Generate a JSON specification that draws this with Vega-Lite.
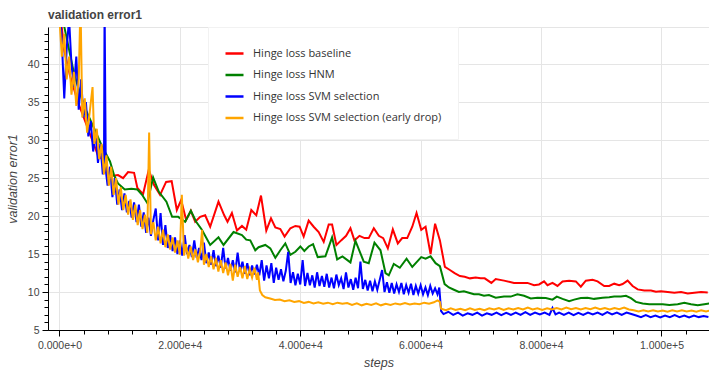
{
"$schema":"https://vega.github.io/schema/vega-lite/v6.json",
"width":661,"height":303,
"autosize":{"type":"none"},
"padding":{"left":48,"top":27,"right":0,"bottom":41},
"background":"white",
"title":{"text":"validation error1","anchor":"start","frame":"group","fontSize":12,"fontWeight":"bold","font":"Liberation Sans","color":"#444444","offset":5},
"datasets":{
"baseline":[{"step":0,"value":48},{"step":750,"value":42},{"step":1750,"value":38.5},{"step":3080,"value":35},{"step":4740,"value":31.5},{"step":6400,"value":28},{"step":7240,"value":27.4},{"step":8070,"value":25.5},{"step":8900,"value":25.3},{"step":9730,"value":25.4},{"step":10570,"value":25.0},{"step":11400,"value":25.8},{"step":12400,"value":25.7},{"step":12950,"value":23.7},{"step":13900,"value":22.9},{"step":14840,"value":26.1},{"step":15720,"value":24.1},{"step":16720,"value":22.8},{"step":17720,"value":24.5},{"step":18640,"value":24.6},{"step":19500,"value":20.8},{"step":20220,"value":22.1},{"step":21050,"value":19.5},{"step":21830,"value":20.7},{"step":22550,"value":19.25},{"step":23380,"value":19.9},{"step":24210,"value":20.1},{"step":25040,"value":18.6},{"step":26420,"value":21.9},{"step":27370,"value":20.1},{"step":27920,"value":19.25},{"step":28650,"value":20.4},{"step":29490,"value":18.1},{"step":30320,"value":18.7},{"step":31030,"value":18.2},{"step":31870,"value":20.8},{"step":32700,"value":20.1},{"step":33480,"value":22.7},{"step":34360,"value":18.1},{"step":35140,"value":19.7},{"step":35860,"value":18.5},{"step":36690,"value":18.3},{"step":37400,"value":17.3},{"step":38360,"value":18.4},{"step":39190,"value":18.7},{"step":39900,"value":18.6},{"step":40570,"value":17.3},{"step":41400,"value":19.4},{"step":42230,"value":18.6},{"step":43060,"value":17.9},{"step":43900,"value":16.6},{"step":44730,"value":18.9},{"step":45290,"value":18.9},{"step":46010,"value":16.2},{"step":46790,"value":16.8},{"step":47620,"value":17.4},{"step":48340,"value":18.4},{"step":49000,"value":16.8},{"step":49840,"value":17.4},{"step":50670,"value":17.1},{"step":51380,"value":17.1},{"step":52220,"value":18.4},{"step":53050,"value":17.4},{"step":53780,"value":17.1},{"step":54550,"value":15.75},{"step":55380,"value":18.25},{"step":56210,"value":16.4},{"step":56940,"value":17.1},{"step":57770,"value":17.1},{"step":58610,"value":18.6},{"step":59320,"value":20.4},{"step":60100,"value":18.2},{"step":60820,"value":18.6},{"step":61650,"value":15.0},{"step":62400,"value":19.0},{"step":63200,"value":16.8},{"step":64030,"value":13.3},{"step":64860,"value":12.9},{"step":65640,"value":12.5},{"step":66530,"value":12.1},{"step":67310,"value":12.0},{"step":68190,"value":11.8},{"step":69140,"value":11.9},{"step":69970,"value":11.8},{"step":70640,"value":11.8},{"step":71750,"value":11.2},{"step":72470,"value":11.7},{"step":73850,"value":11.5},{"step":75510,"value":11.2},{"step":77740,"value":11.2},{"step":78840,"value":10.9},{"step":79670,"value":11.0},{"step":80500,"value":11.4},{"step":81070,"value":10.9},{"step":81900,"value":11.2},{"step":82730,"value":10.8},{"step":83570,"value":11.4},{"step":84670,"value":11.5},{"step":85780,"value":11.4},{"step":86610,"value":10.7},{"step":87440,"value":11.5},{"step":88560,"value":11.6},{"step":89390,"value":11.4},{"step":90490,"value":10.8},{"step":91320,"value":10.8},{"step":92150,"value":11.1},{"step":92980,"value":10.9},{"step":93550,"value":11.05},{"step":94380,"value":11.5},{"step":95210,"value":10.8},{"step":96050,"value":10.35},{"step":97150,"value":10.2},{"step":98260,"value":10.2},{"step":99090,"value":10.05},{"step":99920,"value":10.1},{"step":101040,"value":10.0},{"step":102140,"value":9.9},{"step":103250,"value":10.0},{"step":104370,"value":9.8},{"step":105460,"value":9.9},{"step":106580,"value":10.0},{"step":107690,"value":9.95}],
"hnm":[{"step":0,"value":48},{"step":2500,"value":38.5},{"step":4190,"value":34.3},{"step":5900,"value":31.3},{"step":7000,"value":29.3},{"step":8400,"value":27.2},{"step":9070,"value":25.4},{"step":9730,"value":24.3},{"step":10850,"value":23.5},{"step":11950,"value":23.6},{"step":12950,"value":23.5},{"step":13730,"value":22.8},{"step":14610,"value":21.7},{"step":15560,"value":25.1},{"step":16510,"value":23.2},{"step":17770,"value":21.9},{"step":18720,"value":19.9},{"step":19720,"value":19.9},{"step":20880,"value":19.25},{"step":21830,"value":20.7},{"step":22710,"value":19.25},{"step":23660,"value":18.2},{"step":25040,"value":16.2},{"step":26420,"value":17.2},{"step":27260,"value":16.2},{"step":28920,"value":17.9},{"step":30320,"value":17.5},{"step":31030,"value":16.9},{"step":31700,"value":16.8},{"step":32530,"value":15.5},{"step":33080,"value":15.9},{"step":34200,"value":16.2},{"step":35030,"value":15.75},{"step":35860,"value":14.5},{"step":36690,"value":15.5},{"step":37520,"value":16.4},{"step":38360,"value":14.9},{"step":39190,"value":15.3},{"step":40020,"value":16.0},{"step":40680,"value":15.4},{"step":41400,"value":16.0},{"step":42130,"value":16.3},{"step":42900,"value":14.6},{"step":44180,"value":14.7},{"step":45290,"value":17.2},{"step":46130,"value":14.3},{"step":47010,"value":14.7},{"step":48340,"value":13.9},{"step":49170,"value":16.75},{"step":50550,"value":14.0},{"step":51380,"value":13.8},{"step":52330,"value":16.5},{"step":53330,"value":15.5},{"step":54160,"value":12.5},{"step":54710,"value":12.2},{"step":55540,"value":13.7},{"step":56540,"value":13.2},{"step":57660,"value":14.4},{"step":58610,"value":13.3},{"step":60100,"value":14.6},{"step":60820,"value":14.4},{"step":61650,"value":14.7},{"step":62480,"value":13.8},{"step":63200,"value":13.4},{"step":63980,"value":11.05},{"step":64700,"value":10.6},{"step":65530,"value":10.3},{"step":66360,"value":10.0},{"step":67190,"value":10.1},{"step":68020,"value":9.9},{"step":68860,"value":9.7},{"step":69690,"value":9.7},{"step":70520,"value":9.5},{"step":71350,"value":9.6},{"step":72470,"value":9.25},{"step":73850,"value":9.4},{"step":74960,"value":9.4},{"step":76070,"value":9.7},{"step":77180,"value":9.5},{"step":78290,"value":9.15},{"step":79400,"value":9.25},{"step":80790,"value":9.2},{"step":81900,"value":9.0},{"step":82620,"value":9.4},{"step":83570,"value":9.1},{"step":84670,"value":8.8},{"step":85500,"value":9.0},{"step":86610,"value":9.2},{"step":87720,"value":9.25},{"step":88820,"value":9.1},{"step":90220,"value":9.25},{"step":91320,"value":9.3},{"step":92150,"value":9.4},{"step":93270,"value":9.4},{"step":94100,"value":9.5},{"step":94930,"value":9.2},{"step":95760,"value":8.7},{"step":96880,"value":8.5},{"step":97980,"value":8.4},{"step":99090,"value":8.4},{"step":100200,"value":8.4},{"step":101310,"value":8.3},{"step":102700,"value":8.4},{"step":103800,"value":8.6},{"step":104910,"value":8.4},{"step":106030,"value":8.25},{"step":107130,"value":8.4},{"step":107960,"value":8.5}],
"svm":[{"step":0,"value":48},{"step":400,"value":43},{"step":800,"value":35.5},{"step":1200,"value":42},{"step":1600,"value":46},{"step":2000,"value":40},{"step":2400,"value":37},{"step":2800,"value":41},{"step":3200,"value":34},{"step":3600,"value":38},{"step":4000,"value":33},{"step":4400,"value":35},{"step":4800,"value":30.5},{"step":5200,"value":32.5},{"step":5600,"value":28.5},{"step":6000,"value":31},{"step":6400,"value":27},{"step":6800,"value":29.5},{"step":7200,"value":25.5},{"step":7400,"value":27},{"step":7500,"value":48},{"step":7700,"value":26},{"step":8000,"value":24},{"step":8400,"value":26.5},{"step":8800,"value":22.5},{"step":9200,"value":25},{"step":9600,"value":21.5},{"step":10000,"value":23.5},{"step":10400,"value":20.8},{"step":10800,"value":23},{"step":11200,"value":20.5},{"step":11600,"value":22},{"step":12000,"value":19.8},{"step":12400,"value":21.8},{"step":12800,"value":19.2},{"step":13200,"value":21.5},{"step":13600,"value":18.6},{"step":14000,"value":20.5},{"step":14400,"value":17.8},{"step":14800,"value":19.8},{"step":15200,"value":17.4},{"step":15600,"value":19.5},{"step":16000,"value":21},{"step":16400,"value":16.8},{"step":16800,"value":20.4},{"step":17200,"value":16.2},{"step":17600,"value":18.8},{"step":18000,"value":15.8},{"step":18400,"value":17.5},{"step":18800,"value":15.4},{"step":19200,"value":17.2},{"step":19600,"value":15},{"step":20000,"value":16.8},{"step":20400,"value":14.8},{"step":20800,"value":17.5},{"step":21200,"value":15},{"step":21600,"value":16.2},{"step":22000,"value":14.6},{"step":22400,"value":16.8},{"step":22800,"value":14.5},{"step":23200,"value":15.8},{"step":23600,"value":14.2},{"step":24000,"value":16.5},{"step":24400,"value":13.8},{"step":24800,"value":15.2},{"step":25200,"value":13.6},{"step":25600,"value":15.5},{"step":26000,"value":13.4},{"step":26400,"value":14.8},{"step":26800,"value":13.2},{"step":27200,"value":15.8},{"step":27600,"value":13.1},{"step":28000,"value":14.5},{"step":28400,"value":12.8},{"step":28800,"value":14.2},{"step":29200,"value":12.6},{"step":29600,"value":15.2},{"step":30000,"value":12.7},{"step":30400,"value":14},{"step":30800,"value":12.4},{"step":31200,"value":13.8},{"step":31600,"value":12.2},{"step":32000,"value":13.5},{"step":32400,"value":12.3},{"step":32800,"value":13.6},{"step":33200,"value":12.2},{"step":33600,"value":14.2},{"step":34000,"value":11.5},{"step":34400,"value":13.5},{"step":34800,"value":11.8},{"step":35200,"value":13.8},{"step":35600,"value":11.2},{"step":36000,"value":13.2},{"step":36400,"value":11.6},{"step":36800,"value":13},{"step":37200,"value":11.4},{"step":37600,"value":12.8},{"step":38000,"value":15.3},{"step":38400,"value":11.2},{"step":38800,"value":12.6},{"step":39200,"value":10.9},{"step":39600,"value":12.4},{"step":40000,"value":11},{"step":40400,"value":14.2},{"step":40800,"value":10.8},{"step":41200,"value":12.5},{"step":41600,"value":10.9},{"step":42000,"value":12.2},{"step":42400,"value":10.6},{"step":42800,"value":12.6},{"step":43200,"value":10.8},{"step":43600,"value":12.1},{"step":44000,"value":10.7},{"step":44400,"value":12.4},{"step":44800,"value":10.6},{"step":45200,"value":11.9},{"step":45600,"value":10.5},{"step":46000,"value":12.3},{"step":46400,"value":10.9},{"step":46800,"value":11.8},{"step":47200,"value":10.4},{"step":47600,"value":12.6},{"step":48000,"value":10.6},{"step":48400,"value":11.7},{"step":48800,"value":10.3},{"step":49200,"value":11.9},{"step":49600,"value":10.5},{"step":50000,"value":14},{"step":50400,"value":10.4},{"step":50800,"value":11.6},{"step":51200,"value":10.2},{"step":51600,"value":11.5},{"step":52000,"value":10.1},{"step":52400,"value":11.4},{"step":52800,"value":10.3},{"step":53200,"value":11.6},{"step":53600,"value":12.9},{"step":54000,"value":10},{"step":54400,"value":11.3},{"step":54800,"value":9.9},{"step":55200,"value":11.2},{"step":55600,"value":9.8},{"step":56000,"value":11},{"step":56400,"value":10},{"step":56800,"value":11.2},{"step":57200,"value":9.7},{"step":57600,"value":10.9},{"step":58000,"value":9.9},{"step":58400,"value":11.1},{"step":58800,"value":9.6},{"step":59200,"value":10.8},{"step":59600,"value":9.8},{"step":60000,"value":10.9},{"step":60400,"value":9.7},{"step":60800,"value":10.6},{"step":61200,"value":9.6},{"step":61600,"value":10.8},{"step":62000,"value":9.8},{"step":62400,"value":10.5},{"step":62800,"value":9.7},{"step":63100,"value":10.6},{"step":63400,"value":7.5},{"step":63800,"value":7.1},{"step":64600,"value":7.4},{"step":65400,"value":7.0},{"step":66200,"value":7.3},{"step":67000,"value":6.9},{"step":67800,"value":7.2},{"step":68600,"value":7.0},{"step":69400,"value":7.3},{"step":70200,"value":6.9},{"step":71000,"value":7.2},{"step":71800,"value":7.0},{"step":72600,"value":7.3},{"step":73400,"value":6.95},{"step":74200,"value":7.25},{"step":75000,"value":7.0},{"step":75800,"value":7.3},{"step":76600,"value":7.0},{"step":77400,"value":7.35},{"step":78200,"value":7.0},{"step":79000,"value":7.3},{"step":79800,"value":7.05},{"step":80600,"value":7.3},{"step":81400,"value":7.0},{"step":81900,"value":7.9},{"step":82400,"value":7.05},{"step":83000,"value":7.3},{"step":83800,"value":7.0},{"step":84600,"value":7.3},{"step":85400,"value":6.95},{"step":86200,"value":7.25},{"step":87000,"value":7.0},{"step":87800,"value":7.3},{"step":88600,"value":7.05},{"step":89400,"value":7.3},{"step":90200,"value":7.0},{"step":91000,"value":7.35},{"step":91800,"value":7.05},{"step":92600,"value":7.3},{"step":93400,"value":7.0},{"step":94200,"value":7.3},{"step":95000,"value":7.1},{"step":95800,"value":6.9},{"step":96600,"value":6.7},{"step":97400,"value":6.95},{"step":98200,"value":6.7},{"step":99000,"value":6.9},{"step":99800,"value":6.65},{"step":100600,"value":6.9},{"step":101400,"value":6.7},{"step":102200,"value":6.95},{"step":103000,"value":6.7},{"step":103800,"value":6.9},{"step":104600,"value":6.65},{"step":105400,"value":6.9},{"step":106200,"value":6.7},{"step":107000,"value":6.85},{"step":107800,"value":6.7}],
"early":[{"step":0,"value":46},{"step":400,"value":41},{"step":800,"value":44},{"step":1200,"value":38},{"step":1600,"value":41},{"step":2000,"value":36},{"step":2400,"value":39},{"step":2800,"value":34.5},{"step":3200,"value":38},{"step":3500,"value":48},{"step":3800,"value":33},{"step":4200,"value":35.5},{"step":4600,"value":31},{"step":5000,"value":33.5},{"step":5500,"value":37},{"step":5800,"value":29.5},{"step":6200,"value":31.5},{"step":6600,"value":27.5},{"step":7000,"value":29.5},{"step":7400,"value":25.5},{"step":7800,"value":28},{"step":8200,"value":24},{"step":8600,"value":26.5},{"step":9000,"value":22.8},{"step":9400,"value":25},{"step":9800,"value":21.5},{"step":10200,"value":23.8},{"step":10600,"value":20.8},{"step":11000,"value":22.8},{"step":11400,"value":20.2},{"step":11800,"value":22.2},{"step":12200,"value":19.5},{"step":12600,"value":21.5},{"step":13000,"value":18.8},{"step":13400,"value":20.8},{"step":13800,"value":18.3},{"step":14200,"value":20.2},{"step":14600,"value":17.8},{"step":14900,"value":31},{"step":15200,"value":17.6},{"step":15600,"value":19.2},{"step":16000,"value":16.8},{"step":16400,"value":18.6},{"step":16800,"value":16.4},{"step":17200,"value":18.2},{"step":17600,"value":15.9},{"step":18000,"value":17.6},{"step":18400,"value":15.6},{"step":18800,"value":17.2},{"step":19200,"value":15.2},{"step":19600,"value":16.8},{"step":20000,"value":14.9},{"step":20330,"value":22.8},{"step":20700,"value":14.8},{"step":21000,"value":16.3},{"step":21400,"value":14.4},{"step":21800,"value":16},{"step":22200,"value":14.2},{"step":22600,"value":15.6},{"step":23000,"value":13.9},{"step":23400,"value":15.4},{"step":23700,"value":18.2},{"step":24000,"value":13.6},{"step":24400,"value":15},{"step":24800,"value":13.3},{"step":25200,"value":14.7},{"step":25600,"value":13},{"step":26000,"value":14.5},{"step":26400,"value":12.7},{"step":26800,"value":14.2},{"step":27200,"value":12.5},{"step":27600,"value":13.9},{"step":28000,"value":12.2},{"step":28400,"value":13.7},{"step":28800,"value":11.5},{"step":29200,"value":13.6},{"step":29600,"value":12},{"step":30000,"value":13.3},{"step":30400,"value":11.8},{"step":30800,"value":13.4},{"step":31200,"value":11.7},{"step":31600,"value":13},{"step":32000,"value":11.9},{"step":32400,"value":13.2},{"step":32800,"value":11.6},{"step":33000,"value":12.6},{"step":33300,"value":10.2},{"step":33700,"value":9.6},{"step":34200,"value":9.3},{"step":35000,"value":9.15},{"step":35800,"value":8.95},{"step":36600,"value":9.0},{"step":37400,"value":8.8},{"step":38200,"value":8.9},{"step":39000,"value":8.7},{"step":39800,"value":8.8},{"step":40600,"value":8.55},{"step":41400,"value":8.7},{"step":42200,"value":8.5},{"step":43000,"value":8.65},{"step":43800,"value":8.45},{"step":44600,"value":8.6},{"step":45400,"value":8.4},{"step":46200,"value":8.6},{"step":47000,"value":8.45},{"step":47800,"value":8.55},{"step":48600,"value":8.3},{"step":49400,"value":8.5},{"step":50200,"value":8.25},{"step":51000,"value":8.45},{"step":51800,"value":8.3},{"step":52600,"value":8.5},{"step":53400,"value":8.25},{"step":54200,"value":8.45},{"step":55000,"value":8.3},{"step":55800,"value":8.5},{"step":56600,"value":8.35},{"step":57400,"value":8.55},{"step":58200,"value":8.35},{"step":59000,"value":8.5},{"step":59800,"value":8.4},{"step":60600,"value":8.6},{"step":61400,"value":8.45},{"step":62200,"value":8.65},{"step":62800,"value":8.9},{"step":63200,"value":8.7},{"step":63400,"value":7.8},{"step":64200,"value":7.6},{"step":65000,"value":7.85},{"step":65800,"value":7.65},{"step":66600,"value":7.8},{"step":67400,"value":7.6},{"step":68200,"value":7.85},{"step":69000,"value":7.65},{"step":69800,"value":7.8},{"step":70600,"value":7.6},{"step":71400,"value":7.85},{"step":72200,"value":7.7},{"step":73000,"value":7.9},{"step":73800,"value":7.65},{"step":74600,"value":7.85},{"step":75400,"value":7.7},{"step":76200,"value":7.9},{"step":77000,"value":7.7},{"step":77800,"value":7.95},{"step":78600,"value":7.7},{"step":79400,"value":7.85},{"step":80200,"value":7.65},{"step":81000,"value":7.85},{"step":81800,"value":7.7},{"step":82600,"value":7.9},{"step":83400,"value":7.7},{"step":84200,"value":7.95},{"step":85000,"value":7.75},{"step":85800,"value":7.9},{"step":86600,"value":7.7},{"step":87400,"value":7.9},{"step":88200,"value":7.75},{"step":89000,"value":7.95},{"step":89800,"value":7.75},{"step":90600,"value":7.9},{"step":91400,"value":7.7},{"step":92200,"value":7.9},{"step":93000,"value":7.75},{"step":93800,"value":7.95},{"step":94600,"value":7.7},{"step":95400,"value":7.6},{"step":96200,"value":7.45},{"step":97000,"value":7.6},{"step":97800,"value":7.45},{"step":98600,"value":7.6},{"step":99400,"value":7.45},{"step":100200,"value":7.55},{"step":101000,"value":7.4},{"step":101800,"value":7.6},{"step":102600,"value":7.45},{"step":103400,"value":7.6},{"step":104200,"value":7.45},{"step":105000,"value":7.55},{"step":105800,"value":7.4},{"step":106600,"value":7.6},{"step":107400,"value":7.45},{"step":108000,"value":7.55}]
},
"layer":[
{"encoding":{
 "x":{"field":"step","type":"quantitative","scale":{"domain":[-1900,107900],"nice":false,"zero":false},
  "axis":{"orient":"bottom","values":[0,20000,40000,60000,80000,100000],"format":".3e","title":"steps","grid":true,"tickSize":6,"labelPadding":4,"titlePadding":6}},
 "y":{"field":"value","type":"quantitative","scale":{"domain":[5,44.9],"nice":false,"zero":false},
  "axis":{"orient":"left","values":[5,10,15,20,25,30,35,40],"title":"validation error1","grid":true,"tickSize":6,"labelPadding":3,"titlePadding":8}}},
 "layer":[
 {"data":{"name":"baseline"},"mark":{"type":"line","strokeWidth":2,"clip":true},"encoding":{"color":{"datum":"Hinge loss baseline","type":"nominal","scale":{"domain":["Hinge loss baseline","Hinge loss HNM","Hinge loss SVM selection","Hinge loss SVM selection (early drop)"],"range":["#ff0000","#008000","#0000ff","#ffa500"]}}}},
 {"data":{"name":"hnm"},"mark":{"type":"line","strokeWidth":2,"clip":true},"encoding":{"color":{"datum":"Hinge loss HNM","type":"nominal"}}},
 {"data":{"name":"svm"},"mark":{"type":"line","strokeWidth":2,"clip":true},"encoding":{"color":{"datum":"Hinge loss SVM selection","type":"nominal"}}},
 {"data":{"name":"early"},"mark":{"type":"line","strokeWidth":2,"clip":true},"encoding":{"color":{"datum":"Hinge loss SVM selection (early drop)","type":"nominal"}}}
 ]},
{"data":{"name":"baseline"},"mark":{"type":"line","opacity":0,"clip":true},
 "encoding":{
 "x":{"field":"step","type":"quantitative","axis":{"orient":"bottom","values":[0,4000,8000,12000,16000,20000,24000,28000,32000,36000,40000,44000,48000,52000,56000,60000,64000,68000,72000,76000,80000,84000,88000,92000,96000,100000,104000],"labels":false,"grid":false,"domain":false,"tickSize":4,"title":null}},
 "y":{"field":"value","type":"quantitative","axis":{"orient":"left","values":[5,6,7,8,9,10,11,12,13,14,15,16,17,18,19,20,21,22,23,24,25,26,27,28,29,30,31,32,33,34,35,36,37,38,39,40,41,42,43,44],"labels":false,"grid":false,"domain":false,"tickSize":4,"title":null}}}}
],
"resolve":{"axis":{"x":"independent","y":"independent"}},
"config":{
 "view":{"stroke":"#e5e5e5","strokeWidth":1},
 "axis":{"domainColor":"#000000","tickColor":"#000000","labelColor":"#444444","labelFont":"Liberation Sans","labelFontSize":10.5,"titleFont":"Liberation Sans","titleFontSize":12.5,"titleFontStyle":"italic","titleFontWeight":"normal","titleColor":"#444444","gridColor":"#e5e5e5","gridWidth":1,"domainWidth":1,"tickWidth":1},
 "legend":{"orient":"none","legendX":160,"legendY":0,"direction":"vertical","title":null,"symbolType":"stroke","symbolSize":324,"symbolStrokeWidth":2.5,"labelFont":"Open Sans","labelFontSize":11,"labelColor":"#333333","labelOffset":8,"rowPadding":5.5,"padding":16,"fillColor":"white","strokeColor":"#f2f2f2","labelLimit":400}
}
}
